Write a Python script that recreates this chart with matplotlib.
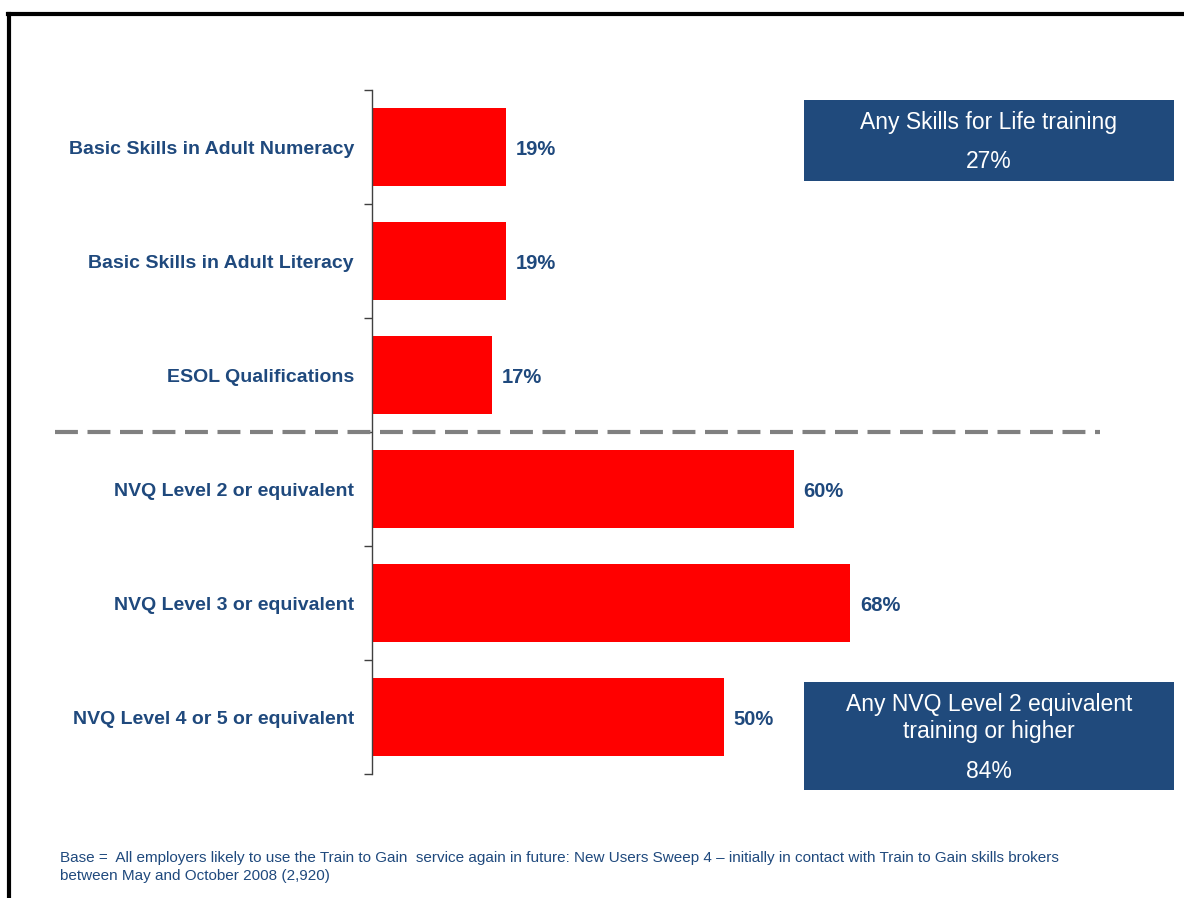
import matplotlib
matplotlib.use("Agg")
import matplotlib.pyplot as plt
from matplotlib.lines import Line2D
from matplotlib.patches import Rectangle

categories = ["Basic Skills in Adult Numeracy", "Basic Skills in Adult Literacy",
              "ESOL Qualifications", "NVQ Level 2 or equivalent",
              "NVQ Level 3 or equivalent", "NVQ Level 4 or 5 or equivalent"]
values = [19, 19, 17, 60, 68, 50]
box1_title = "Any Skills for Life training"
box1_value = "27%"
box2_title = "Any NVQ Level 2 equivalent\ntraining or higher"
box2_value = "84%"
footnote = ("Base =  All employers likely to use the Train to Gain  service again in future: New Users Sweep 4 \u2013 initially in contact with Train to Gain skills brokers\n"
            "between May and October 2008 (2,920)")

W, H = 1184, 898
fig = plt.figure(figsize=(W/100, H/100), dpi=100)
plt.rcParams['font.family'] = ['Liberation Sans', 'DejaVu Sans']
blue = "#1F497D"
boxblue = "#204A7C"

def fx(px): return px / W
def fy(py): return 1 - py / H

ax = fig.add_axes([fx(372), fy(774), fx(1075) - fx(372), fy(90) - fy(774)])
n = len(categories)
ypos = list(range(n))
ax.barh(ypos, values, height=0.68, color="#FF0000", edgecolor="none")
ax.set_xlim(0, 100)
ax.set_ylim(n - 0.5, -0.5)
ax.set_yticks(ypos)
ax.set_yticklabels(categories, fontsize=14, fontweight="bold", color=blue)
ax.tick_params(axis="y", which="major", length=0, pad=13)
ax.set_yticks([i - 0.5 for i in range(n + 1)], minor=True)
ax.tick_params(axis="y", which="minor", length=6, width=1, color="#404040", direction="out")
ax.set_xticks([])
for s in ["top", "right", "bottom"]:
    ax.spines[s].set_visible(False)
ax.spines["left"].set_color("#404040")
ax.spines["left"].set_linewidth(1)
for y, v in zip(ypos, values):
    ax.text(v + 1.4, y + 0.02, f"{v}%", va="center", ha="left", fontsize=14.5,
            fontweight="bold", color=blue)

# dashed separator
fig.add_artist(Line2D([fx(55), fx(1100)], [fy(432), fy(432)], color="#808080",
                      linewidth=3, linestyle=(0, (5.5, 2.3))))

# boxes
fig.add_artist(Rectangle((fx(804), fy(181)), fx(1174) - fx(804), fy(100) - fy(181),
                         transform=fig.transFigure, facecolor=boxblue, edgecolor="none"))
fig.text(fx(989), fy(122), box1_title, ha="center", va="center", color="white", fontsize=16.5)
fig.text(fx(989), fy(161), box1_value, ha="center", va="center", color="white", fontsize=16.5)
fig.add_artist(Rectangle((fx(804), fy(790)), fx(1174) - fx(804), fy(682) - fy(790),
                         transform=fig.transFigure, facecolor=boxblue, edgecolor="none"))
fig.text(fx(989), fy(718), box2_title, ha="center", va="center", color="white",
         fontsize=16.5, linespacing=1.25)
fig.text(fx(989), fy(772), box2_value, ha="center", va="center", color="white", fontsize=16.5)

# footnote
fig.text(fx(60), fy(867), footnote, ha="left", va="center", color=blue, fontsize=11, linespacing=1.3)

# border
fig.add_artist(Line2D([fx(8), 1.0], [fy(14), fy(14)], color="black", linewidth=3))
fig.add_artist(Line2D([fx(9), fx(9)], [fy(14), 0.0], color="black", linewidth=3))

fig.savefig("out.png", dpi=100)
